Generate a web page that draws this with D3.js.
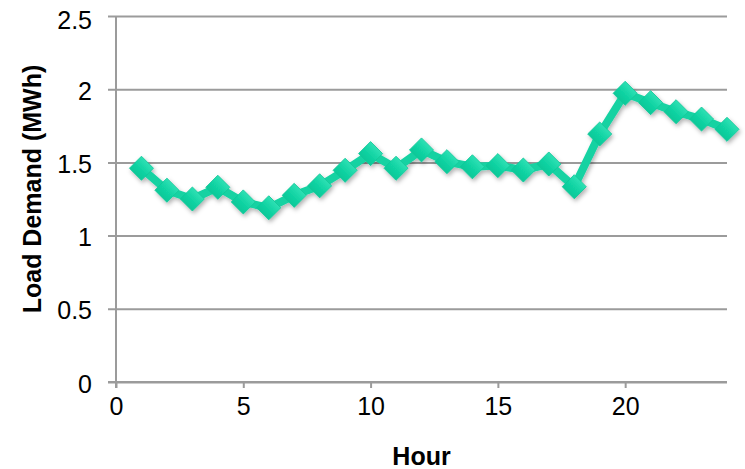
<!DOCTYPE html>
<html>
<head>
<meta charset="utf-8">
<script src="https://cdn.jsdelivr.net/npm/d3@7"></script>
<style>
  html, body { margin: 0; padding: 0; background: #fff; }
  svg { display: block; }
  text { font-family: "Liberation Sans", Arial, sans-serif; fill: #000; }
</style>
</head>
<body>
<svg id="chart" width="745" height="469"></svg>
<script>
const hours = [1,2,3,4,5,6,7,8,9,10,11,12,13,14,15,16,17,18,19,20,21,22,23,24];
const loadDemand = [1.46,1.31,1.25,1.33,1.23,1.19,1.275,1.34,1.446,1.56,1.46,1.585,1.505,1.47,1.478,1.448,1.489,1.334,1.694,1.972,1.908,1.846,1.796,1.726];
const xTicks = [0,5,10,15,20];
const yTicks = [0,0.5,1,1.5,2,2.5];
const xTitle = "Hour";
const yTitle = "Load Demand (MWh)";

(function () {
const data = hours.map((h, i) => ({ x: h, y: loadDemand[i] }));

const svg = d3.select("#chart");
const mLeft = 116, mRight = 727, mTop = 16, mBottom = 382;

const x = d3.scaleLinear().domain([0, 24]).range([mLeft, mRight]);
const y = d3.scaleLinear().domain([0, 2.5]).range([mBottom, mTop]);

const grid = "#9b9b9b";
const fs = 25;

// defs: shadow + gradient
const defs = svg.append("defs");
const f = defs.append("filter").attr("id", "shadow")
  .attr("x", "-20%").attr("y", "-20%").attr("width", "140%").attr("height", "140%");
f.append("feDropShadow").attr("dx", 1.5).attr("dy", 2.5).attr("stdDeviation", 2)
  .attr("flood-color", "#000").attr("flood-opacity", 0.3);
const g1 = defs.append("linearGradient").attr("id", "mk")
  .attr("x1", 0).attr("y1", 0).attr("x2", 0).attr("y2", 1);
g1.append("stop").attr("offset", "0%").attr("stop-color", "#2fe0b4");
g1.append("stop").attr("offset", "50%").attr("stop-color", "#12d4a4");
g1.append("stop").attr("offset", "100%").attr("stop-color", "#0cc898");

// Y axis with gridlines
const yAxis = d3.axisLeft(y).tickValues(yTicks).tickSize(-(mRight - mLeft)).tickPadding(16)
  .tickFormat(d3.format("~g"));
const yg = svg.append("g").attr("transform", `translate(${mLeft},0)`).call(yAxis);
yg.select(".domain").remove();
yg.selectAll(".tick line").attr("stroke", grid).attr("stroke-width", 2).attr("x1", -8);
yg.selectAll(".tick text").attr("font-size", fs).attr("font-family", "Liberation Sans, Arial, sans-serif")
  .attr("fill", "#000").attr("dy", "0.4em").attr("x", -24);
yg.selectAll(".tick").filter(d => d === 2.5).select("text").attr("dy", "0.5em");

// X axis
const xAxis = d3.axisBottom(x).tickValues(xTicks).tickSize(6).tickPadding(10)
  .tickFormat(d3.format("d"));
const xg = svg.append("g").attr("transform", `translate(0,${mBottom})`).call(xAxis);
xg.select(".domain").attr("d", `M${mLeft - 8},0H${mRight}`).attr("stroke", grid).attr("stroke-width", 2);
xg.selectAll(".tick line").attr("stroke", grid).attr("stroke-width", 2);
xg.selectAll(".tick text").attr("font-size", fs).attr("font-family", "Liberation Sans, Arial, sans-serif")
  .attr("fill", "#000").attr("dy", "0.68em");

// Y axis line
svg.append("line").attr("x1", mLeft).attr("x2", mLeft).attr("y1", mTop).attr("y2", mBottom + 6)
  .attr("stroke", grid).attr("stroke-width", 2);

// series
const plot = svg.append("g").attr("filter", "url(#shadow)");
const line = d3.line().x(d => x(d.x)).y(d => y(d.y));
plot.append("path").datum(data).attr("d", line)
  .attr("fill", "none").attr("stroke", "#14d2a2").attr("stroke-width", 8)
  .attr("stroke-linejoin", "round");
const sym = d3.symbol().type(d3.symbolSquare).size(290);
plot.selectAll(".mk").data(data).join("path").attr("class", "mk")
  .attr("d", sym)
  .attr("transform", d => `translate(${x(d.x)},${y(d.y)}) rotate(45)`)
  .attr("fill", "url(#mk)").attr("stroke", "#10c898").attr("stroke-width", 0.8);

// Titles
svg.append("text").attr("x", (mLeft + mRight) / 2).attr("y", 465)
  .attr("text-anchor", "middle").attr("font-size", fs).attr("font-weight", "bold").text(xTitle);
svg.append("text").attr("transform", `translate(41,189) rotate(-90)`)
  .attr("text-anchor", "middle").attr("font-size", fs).attr("font-weight", "bold").text(yTitle);
})();
</script>
</body>
</html>
